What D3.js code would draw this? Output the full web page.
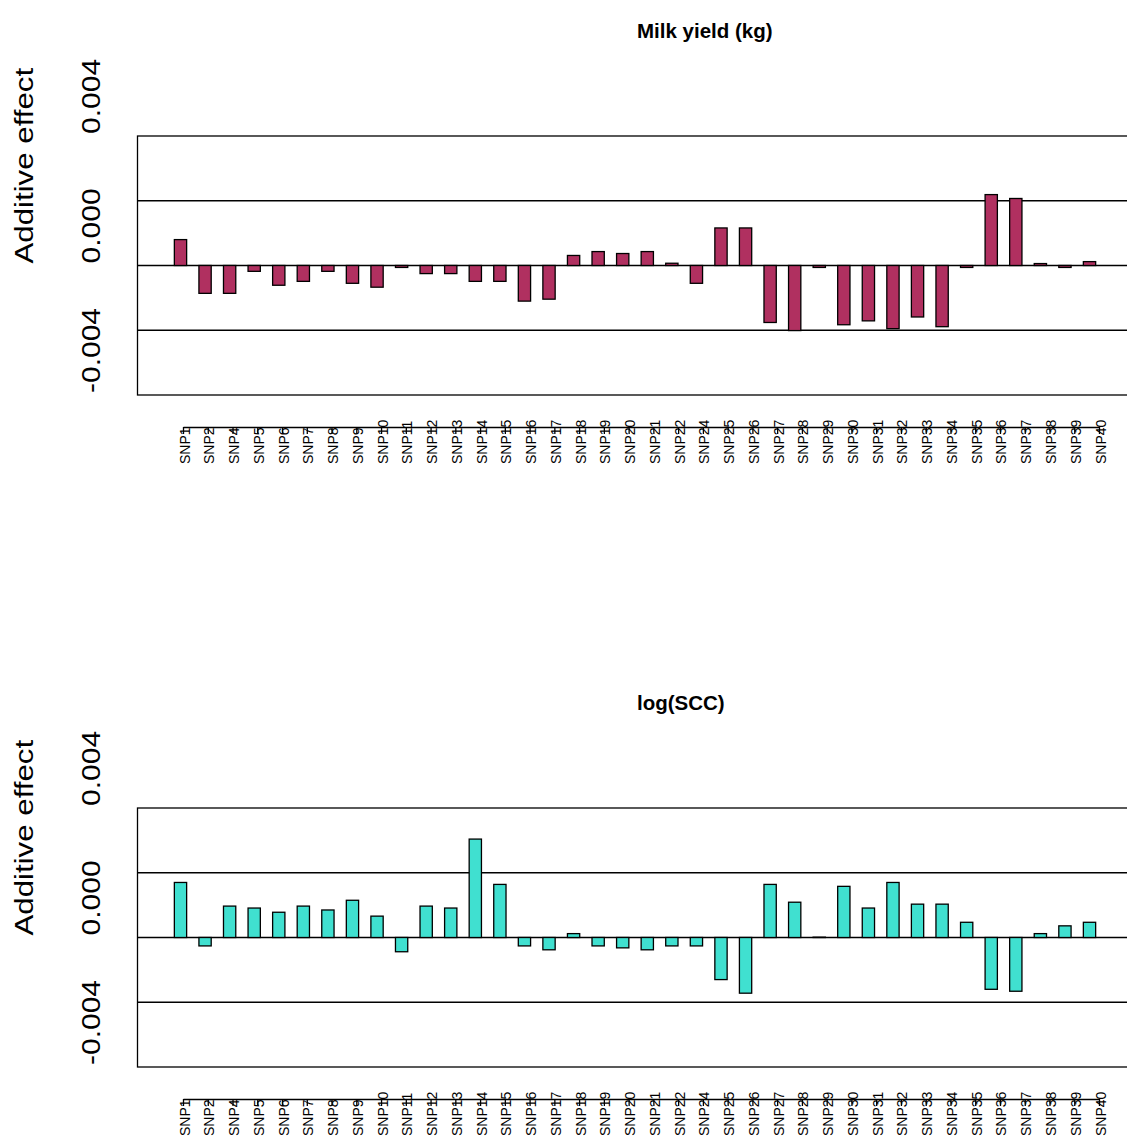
<!DOCTYPE html>
<html>
<head>
<meta charset="utf-8">
<script src="https://cdn.jsdelivr.net/npm/d3@7"></script>
<style>
  body{margin:0;background:#fff}
  svg{display:block;font-family:"Liberation Sans",Arial,sans-serif}
</style>
</head>
<body>
<svg id="chart" width="1127" height="1138"></svg>
<script>
/* ——— data ——————————————————————————————————————————— */
const snps = ["SNP1","SNP2","SNP4","SNP5","SNP6","SNP7","SNP8","SNP9","SNP10",
  "SNP11","SNP12","SNP13","SNP14","SNP15","SNP16","SNP17","SNP18","SNP19","SNP20",
  "SNP21","SNP22","SNP24","SNP25","SNP26","SNP27","SNP28","SNP29","SNP30","SNP31",
  "SNP32","SNP33","SNP34","SNP35","SNP36","SNP37","SNP38","SNP39","SNP40"];

// additive effects
const milkYield = [0.00080,-0.00086,-0.00086,-0.00018,-0.00061,-0.00049,-0.00018,
  -0.00055,-0.00067,-0.00006,-0.00025,-0.00025,-0.00049,-0.00049,-0.00110,-0.00104,
  0.00031,0.00043,0.00037,0.00043,0.00007,-0.00055,0.00116,0.00116,-0.00176,-0.00201,
  -0.00006,-0.00183,-0.00171,-0.00195,-0.00159,-0.00189,-0.00006,0.00219,0.00207,
  0.00006,-0.00006,0.00012];

const logScc = [0.00170,-0.00026,0.00097,0.00091,0.00078,0.00097,0.00085,0.00115,
  0.00066,-0.00044,0.00097,0.00091,0.00304,0.00164,-0.00026,-0.00038,0.00012,-0.00026,
  -0.00032,-0.00038,-0.00026,-0.00026,-0.00130,-0.00172,0.00164,0.00109,0.00001,
  0.00158,0.00091,0.00170,0.00103,0.00103,0.00047,-0.00160,-0.00166,0.00012,0.00036,
  0.00047];

const yDomain   = [-0.004, 0.004];
const yTicks    = [-0.004, 0, 0.004];
const yRules    = [-0.002, 0, 0.002];
const titles    = ["Milk yield (kg)", "log(SCC)"];
const yLabel    = "Additive effect";
const fills     = ["#B03060", "#40E0D0"];

/* ——— layout ————————————————————————————————————————— */
const panelTops = [136, 808];
const panelH    = 259;
const svg = d3.select("#chart");

// R barplot units: bar i spans [1+2i, 2+2i], xlim [1,76] widened 4%
const x  = d3.scaleLinear([-2, 79], [137.5, 1132.5]);
const ax = d3.scalePoint(snps, [183, 1099]);     // axis ticks
const fmt = d => d3.format(".3f")(d).replace("\u2212", "-");   // plain hyphen

function panel(g, {title, values, fill, top}){
  const y = d3.scaleLinear(yDomain, [top + panelH, top]);

  /* ——— frame + rules ——————————————— */
  g.append("rect")
    .attr("x", x(-2)).attr("y", y(yDomain[1]))
    .attr("width", x(79) - x(-2))
    .attr("height", y(yDomain[0]) - y(yDomain[1]))
    .attr("fill","none").attr("stroke","#000").attr("stroke-width",1.3);

  g.append("g").selectAll("line").data(yRules).join("line")
    .attr("x1", x(-2)).attr("x2", x(79))
    .attr("y1", d => y(d)).attr("y2", d => y(d))
    .attr("stroke","#000").attr("stroke-width",1.3);

  /* ——— bars ————————————————————————— */
  g.append("g").selectAll("rect").data(values).join("rect")
    .attr("x", (d,i) => x(1 + 2*i))
    .attr("width", x(2) - x(1))
    .attr("y", d => y(Math.max(0, d)))
    .attr("height", d => Math.abs(y(d) - y(0)))
    .attr("fill", fill)
    .attr("stroke","#000").attr("stroke-width",1.3);

  /* ——— y labels (start-anchored, rotated) ——— */
  g.append("g").selectAll("text").data(yTicks).join("text")
    .attr("transform", d => `translate(100,${y(d) - 2}) rotate(-90) scale(1.2,1)`)
    .attr("font-size", 25)
    .text(fmt);

  g.append("text")
    .attr("transform", `translate(33,${(y(yDomain[0]) + y(yDomain[1]))/2 - 2}) rotate(-90) scale(1.25,1)`)
    .attr("font-size", 25)
    .text(yLabel);

  /* ——— title ———————————————————————— */
  g.append("text")
    .attr("x", (x(-2) + x(79))/2 + 2)
    .attr("y", top - 98)
    .attr("font-size", 20.5)
    .attr("font-weight","bold")
    .text(title);

  /* ——— x axis ——————————————————————— */
  const axisG = g.append("g")
    .attr("transform", `translate(0,${top + panelH + 32})`)
    .call(d3.axisBottom(ax).tickSize(7).tickSizeOuter(0));
  axisG.select(".domain").attr("stroke-width",1.3);
  axisG.selectAll(".tick line").attr("stroke-width",1.3);
  axisG.selectAll(".tick text")
    .attr("y", null).attr("dy", null)
    .attr("transform","translate(6,37) rotate(-90)")
    .attr("text-anchor","start")
    .attr("font-size",14)
    .attr("font-family",'"Liberation Sans",Arial,sans-serif')
    .attr("fill","#000");
}

const series = [milkYield, logScc];
series.forEach((values, k) =>
  panel(svg.append("g"), {title: titles[k], values, fill: fills[k], top: panelTops[k]}));
</script>
</body>
</html>
